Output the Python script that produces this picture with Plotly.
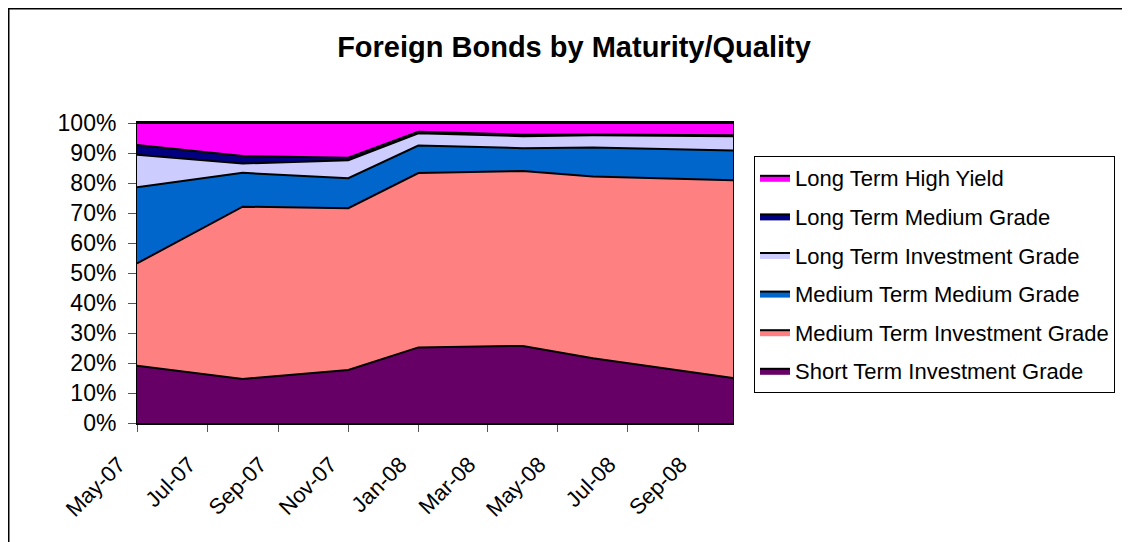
import plotly.graph_objects as go

dates = ["2007-05-01", "2007-08-01", "2007-11-01", "2008-01-01",
         "2008-04-01", "2008-06-01", "2008-10-01"]

short_inv = [19.1, 14.7, 17.7, 25.2, 25.7, 21.6, 15.0]
medium_inv = [34.1, 57.4, 53.9, 58.1, 58.3, 60.6, 65.9]
medium_med = [25.4, 11.3, 10.0, 9.2, 7.6, 9.6, 9.9]
long_inv = [10.8, 3.1, 6.0, 4.1, 4.0, 4.1, 4.8]
long_med = [3.3, 2.5, 0.8, 0.5, 0.5, 0.3, 0.3]
long_hy = [7.3, 11.0, 11.6, 2.9, 3.9, 3.8, 4.1]

series = [
    ("Short Term Investment Grade", short_inv, "#660066"),
    ("Medium Term Investment Grade", medium_inv, "#FF8080"),
    ("Medium Term Medium Grade", medium_med, "#0066CC"),
    ("Long Term Investment Grade", long_inv, "#CCCCFF"),
    ("Long Term Medium Grade", long_med, "#000080"),
    ("Long Term High Yield", long_hy, "#FF00FF"),
]

tick_vals = ["2007-05-01", "2007-07-01", "2007-09-01", "2007-11-01", "2008-01-01",
             "2008-03-01", "2008-05-01", "2008-07-01", "2008-09-01"]
tick_text = ["May-07", "Jul-07", "Sep-07", "Nov-07", "Jan-08",
             "Mar-08", "May-08", "Jul-08", "Sep-08"]

fig = go.Figure()
n = len(series)
for i, (name, vals, color) in enumerate(series):
    fig.add_trace(go.Scatter(
        x=dates, y=vals, name=name, mode="lines",
        stackgroup="one", groupnorm="percent",
        line=dict(color="black", width=2),
        fillcolor=color, legendgroup=name, legendrank=n - i,
    ))

# page body has an 8px margin; figure coordinates = screen - 8
OFF = 8
W, H = 1130 - OFF, 542 - OFF
L, R, T, B = 137 - OFF, 733 - OFF, 123 - OFF, 423 - OFF
pw, ph = R - L, B - T

def px_x(v):
    return (v - OFF - L) / pw

def px_y(v):
    return (B - (v - OFF)) / ph

fig.update_layout(
    width=W, height=H,
    margin=dict(l=L, r=W - R, t=T, b=H - B, autoexpand=False),
    paper_bgcolor="white", plot_bgcolor="white",
    font=dict(family="Liberation Sans, Arial, sans-serif", color="black", size=22),
    title=dict(text="<b>Foreign Bonds by Maturity/Quality</b>",
               x=(574 - OFF) / W, xanchor="center", y=1 - (47 - OFF) / H, yanchor="middle",
               font=dict(size=29)),
    showlegend=True,
    legend=dict(
        x=px_x(754), y=px_y(156), xanchor="left", yanchor="top",
        bordercolor="black", borderwidth=1, bgcolor="white",
        traceorder="grouped", tracegroupgap=7, itemwidth=30,
        font=dict(size=22),
    ),
    xaxis=dict(
        type="date", range=["2007-05-01", "2008-10-01"],
        tickmode="array", tickvals=tick_vals, ticktext=tick_text,
        tickangle=-45, ticks="outside", ticklen=7, tickcolor="#555",
        tickfont=dict(size=22), ticklabelstandoff=11, ticklabelshift=-18,
        showgrid=False, showline=True, linecolor="black", linewidth=2,
        mirror=True, zeroline=False, automargin=False,
    ),
    yaxis=dict(
        range=[0, 100], dtick=10, ticksuffix="%",
        ticks="outside", ticklen=8, tickcolor="#555",
        tickfont=dict(size=23), ticklabelstandoff=7,
        showgrid=False, showline=True, linecolor="black", linewidth=1,
        mirror=True, zeroline=False, automargin=False,
    ),
    shapes=[dict(
        type="rect", xref="paper", yref="paper",
        x0=(0.75 - L) / pw, x1=px_x(1145), y0=px_y(560), y1=(B - 0.75) / ph,
        line=dict(color="black", width=1.5), fillcolor="rgba(0,0,0,0)",
        layer="below",
    )],
)

fig.write_html("out.html")
